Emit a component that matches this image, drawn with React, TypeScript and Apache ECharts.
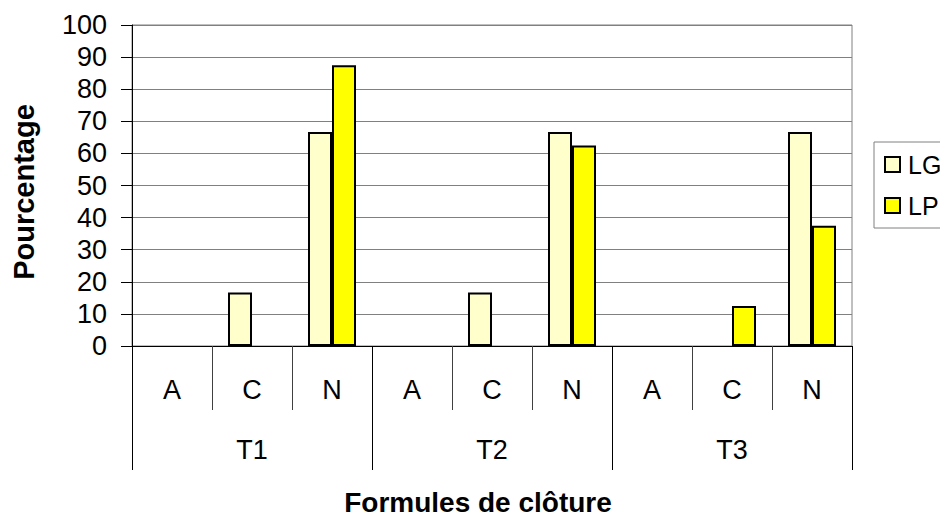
import React, { useEffect, useRef } from "react";
import * as echarts from "echarts";

const subCategories = ["A", "C", "N", "A", "C", "N", "A", "C", "N"];
const groups = ["T1", "T2", "T3"];
const lgValues = [0, 16.7, 66.7, 0, 16.7, 66.7, 0, 0, 66.7];
const lpValues = [0, 0, 87.5, 0, 0, 62.5, 0, 12.5, 37.5];
const seriesNames = ["LG", "LP"];
const yTitle = "Pourcentage";
const xTitle = "Formules de clôture";

const FONT = "'Liberation Sans', Arial, sans-serif";

const toData = (arr: number[]) =>
  arr.map((v) => (v === 0 ? { value: v, itemStyle: { borderWidth: 0 } } : v));

export default function App() {
  const ref = useRef<HTMLDivElement>(null);
  useEffect(() => {
    if (!ref.current) return;
    const chart = echarts.init(ref.current, undefined, { renderer: "svg" });
    chart.setOption({
      animation: false,
      backgroundColor: "#ffffff",
      textStyle: { fontFamily: FONT },
      grid: {
        left: 132,
        right: 88,
        top: 25,
        bottom: 171,
        show: true,
        borderColor: "#808080",
        borderWidth: 1,
        backgroundColor: "transparent",
      },
      legend: {
        orient: "vertical",
        left: 874,
        top: 142,
        padding: [10, 6, 10, 10],
        itemGap: 16,
        itemWidth: 15,
        itemHeight: 15,
        borderColor: "#808080",
        borderWidth: 1,
        icon: "rect",
        data: seriesNames,
        textStyle: {
          fontFamily: FONT,
          fontSize: 25,
          color: "#000",
          padding: [0, 0, 0, 3],
        },
      },
      xAxis: [
        {
          type: "category",
          data: subCategories,
          position: "bottom",
          axisLine: { show: true, lineStyle: { color: "#000", width: 1 } },
          axisTick: {
            show: true,
            length: 64,
            lineStyle: { color: "#404040", width: 1 },
          },
          axisLabel: {
            margin: 30,
            fontSize: 27,
            color: "#000",
            fontFamily: FONT,
            interval: 0,
          },
          splitLine: { show: false },
        },
        {
          type: "category",
          data: groups,
          position: "bottom",
          gridIndex: 0,
          axisLine: { show: false },
          axisTick: {
            show: true,
            length: 124,
            lineStyle: { color: "#000", width: 1 },
          },
          axisLabel: {
            margin: 90,
            fontSize: 27,
            color: "#000",
            fontFamily: FONT,
            interval: 0,
          },
          splitLine: { show: false },
        },
      ],
      yAxis: {
        type: "value",
        min: 0,
        max: 100,
        interval: 10,
        axisLine: { show: true, lineStyle: { color: "#000", width: 1 } },
        axisTick: { show: true, length: 11, lineStyle: { color: "#000" } },
        axisLabel: {
          margin: 25,
          fontSize: 27,
          color: "#000",
          fontFamily: FONT,
        },
        splitLine: { show: true, lineStyle: { color: "#808080", width: 1 } },
      },
      graphic: [
        {
          type: "text",
          x: 24,
          y: 192,
          rotation: Math.PI / 2,
          style: {
            text: yTitle,
            fontSize: 29,
            fontWeight: "bold",
            fontFamily: FONT,
            fill: "#000",
            align: "center",
            verticalAlign: "middle",
          },
        },
        {
          type: "text",
          x: 478,
          y: 502,
          style: {
            text: xTitle,
            fontSize: 28,
            fontWeight: "bold",
            fontFamily: FONT,
            fill: "#000",
            align: "center",
            verticalAlign: "middle",
          },
        },
      ],
      series: [
        {
          name: seriesNames[0],
          type: "bar",
          xAxisIndex: 0,
          data: toData(lgValues),
          barWidth: 24,
          barGap: "0%",
          itemStyle: { color: "#FFFFCC", borderColor: "#000", borderWidth: 2 },
        },
        {
          name: seriesNames[1],
          type: "bar",
          xAxisIndex: 0,
          data: toData(lpValues),
          barWidth: 24,
          barGap: "0%",
          itemStyle: { color: "#FFFF00", borderColor: "#000", borderWidth: 2 },
        },
      ],
    });
    return () => chart.dispose();
  }, []);
  return (
    <div
      ref={ref}
      style={{ position: "fixed", left: 0, top: 0, width: 940, height: 517 }}
    />
  );
}
